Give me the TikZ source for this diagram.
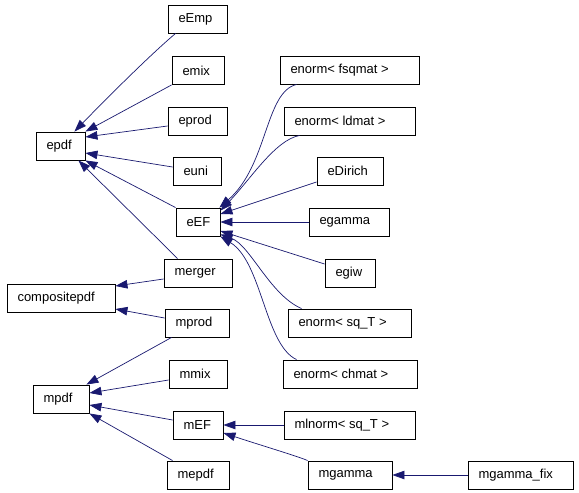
\documentclass[tikz,border=0pt]{standalone}
\usepackage{fontspec}
\setmainfont{Liberation Sans}
\usetikzlibrary{arrows.meta}
\definecolor{edgeblue}{RGB}{25,25,112}
\newcommand\bxt[2]{\makebox[#1pt][l]{\hspace{10.5pt}#2}}
\begin{document}
\begin{tikzpicture}[x=1pt,y=-1pt,
  cls/.style={draw=black,line width=0.9pt,rectangle,inner sep=0pt,minimum height=28pt,font=\fontsize{13}{15}\selectfont,fill=white},
  edge/.style={draw=edgeblue,line width=0.7pt,-{Triangle[length=12pt,width=8.5pt]}}]
\fill[white] (0,0) rectangle (579,493);
\useasboundingbox (0,0) rectangle (579,493);
% nodes
\node[cls,minimum width=59pt] (eEmp) at (197.5,19) {\bxt{59}{eEmp}};
\node[cls,minimum width=52pt] (emix) at (198,70.5) {\bxt{52}{emix}};
\node[cls,minimum width=59pt] (eprod) at (197.5,121) {\bxt{59}{eprod}};
\node[cls,minimum width=49pt] (epdf) at (60.5,146) {\bxt{49}{epdf}};
\node[cls,minimum width=48pt] (euni) at (197,171) {\bxt{48}{euni}};
\node[cls,minimum width=44pt] (eEF) at (198,222) {\bxt{44}{eEF}};
\node[cls,minimum width=68pt] (merger) at (198,273) {\bxt{68}{merger}};
\node[cls,minimum width=108pt] (compositepdf) at (61,298) {\bxt{108}{compositepdf}};
\node[cls,minimum width=64pt] (mprod) at (197,323) {\bxt{64}{mprod}};
\node[cls,minimum width=58pt] (mmix) at (198,374) {\bxt{58}{mmix}};
\node[cls,minimum width=56pt] (mpdf) at (61,399) {\bxt{56}{mpdf}};
\node[cls,minimum width=50pt] (mEF) at (198,425) {\bxt{50}{mEF}};
\node[cls,minimum width=62pt] (mepdf) at (198,475) {\bxt{62}{mepdf}};
\node[cls,minimum width=139pt] (fsqmat) at (349.5,70) {\bxt{139}{enorm< fsqmat >}};
\node[cls,minimum width=131pt] (ldmat) at (349.5,121) {\bxt{131}{enorm< ldmat >}};
\node[cls,minimum width=66pt] (eDirich) at (350,171) {\bxt{66}{eDirich}};
\node[cls,minimum width=80pt] (egamma) at (349,222) {\bxt{80}{egamma}};
\node[cls,minimum width=50pt] (egiw) at (350,273) {\bxt{50}{egiw}};
\node[cls,minimum width=123pt] (sqT) at (349.5,323) {\bxt{123}{enorm< sq\_T >}};
\node[cls,minimum width=134pt] (chmat) at (350,374) {\bxt{134}{enorm< chmat >}};
\node[cls,minimum width=131pt] (mlnorm) at (349.5,425) {\bxt{131}{mlnorm< sq\_T >}};
\node[cls,minimum width=84pt] (mgamma) at (350,475) {\bxt{84}{mgamma}};
\node[cls,minimum width=105pt] (mgammafix) at (520.5,475) {\bxt{105}{mgamma\_fix}};
% edges to epdf
\draw[edge] ([xshift=8pt]eEmp.south west) .. controls (150,55) and (105,100) .. ([xshift=-11pt]epdf.north east);
\draw[edge] (emix.south west) -- (epdf.north east);
\draw[edge] ([yshift=-5pt]eprod.west) -- ([yshift=9pt]epdf.east);
\draw[edge] ([yshift=4pt]euni.west) -- ([yshift=-7pt]epdf.east);
\draw[edge] ([xshift=0pt]eEF.north west) -- (epdf.south east);
\draw[edge] ([xshift=14pt]merger.north west) -- ([xshift=-7pt]epdf.south east);
% edges to compositepdf
\draw[edge] ([yshift=-6pt]merger.west) -- ([yshift=12pt]compositepdf.east);
\draw[edge] ([yshift=5pt]mprod.west) -- ([yshift=-11pt]compositepdf.east);
% edges to mpdf
\draw[edge] ([xshift=7pt]mprod.south west) -- ([xshift=-3pt]mpdf.north east);
\draw[edge] ([yshift=-6pt]mmix.west) -- ([yshift=6pt]mpdf.east);
\draw[edge] ([yshift=5pt]mEF.west) -- ([yshift=-6pt]mpdf.east);
\draw[edge] ([xshift=6pt]mepdf.north west) -- (mpdf.south east);
% edges to eEF
\draw[edge] ([xshift=17pt]fsqmat.south west) .. controls (265,92) and (268,165) .. ([xshift=-1pt]eEF.north east);
\draw[edge] ([xshift=16pt]ldmat.south west) .. controls (275,140) and (250,180) .. ([yshift=-3pt]eEF.north east);
\draw[edge] ([yshift=-11pt]eDirich.west) -- ([yshift=8pt]eEF.east);
\draw[edge] (egamma.west) -- (eEF.east);
\draw[edge] ([yshift=9pt]egiw.west) -- ([yshift=-9pt]eEF.east);
\draw[edge] ([xshift=14pt]sqT.north west) .. controls (270,295) and (250,245) .. ([yshift=2pt]eEF.south east);
\draw[edge] ([xshift=14pt]chmat.north west) .. controls (265,345) and (262,262) .. (eEF.south east);
% edges to mEF
\draw[edge] (mlnorm.west) -- (mEF.east);
\draw[edge] (mgamma.north west) .. controls (300,457) and (260,445) .. ([yshift=-8pt]mEF.east);
% edge to mgamma
\draw[edge] (mgammafix.west) -- (mgamma.east);
\end{tikzpicture}
\end{document}
